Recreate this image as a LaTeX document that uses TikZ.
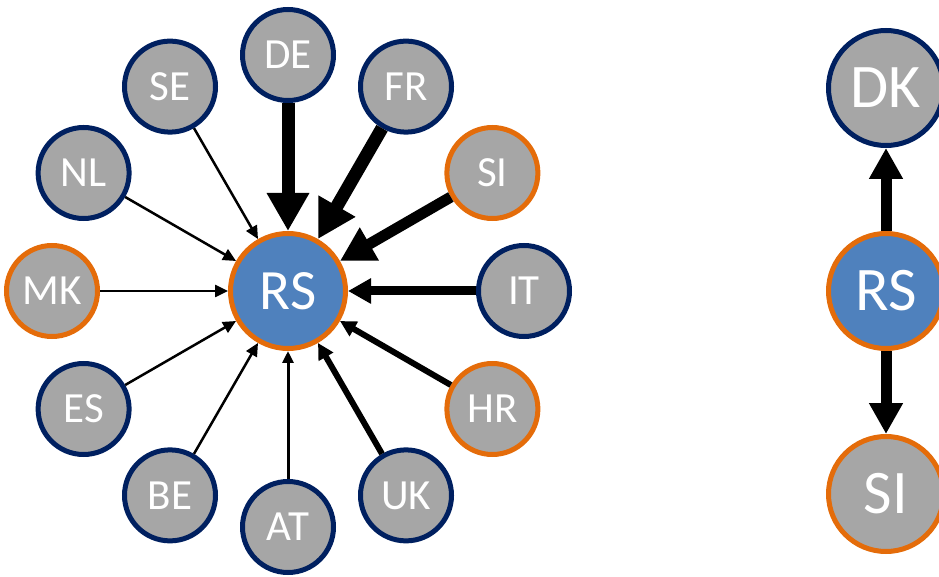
\documentclass[tikz,border=0pt]{standalone}
\usepackage{fontspec}
\setmainfont{Carlito}
\usepackage{tikz}
\usetikzlibrary{arrows.meta,shapes,positioning}
\definecolor{navyline}{HTML}{002060}
\definecolor{orangeline}{HTML}{E46C0A}
\definecolor{greyfill}{HTML}{A6A6A6}
\definecolor{bluefill}{HTML}{4F81BD}
\tikzstyle{country} = [circle, draw=navyline, line width=5pt, fill=greyfill,
    text=white, inner sep=0pt, minimum size=91pt, font=\fontsize{43}{43}\selectfont]
\tikzstyle{partner} = [country, draw=orangeline]
\tikzstyle{hub} = [country, draw=orangeline, fill=bluefill, minimum size=115pt,
    font=\fontsize{57}{57}\selectfont]
\tikzstyle{bigcountry} = [country, minimum size=115pt, font=\fontsize{62}{62}\selectfont]
\tikzstyle{bigpartner} = [bigcountry, draw=orangeline]
\tikzstyle{bighub} = [hub, font=\fontsize{62}{62}\selectfont]
\tikzstyle{line} = [draw, line width=2.5pt, -{Triangle[length=13pt,width=12pt]}]
\tikzstyle{line3} = [draw, line width=3pt, -{Triangle[length=12pt,width=11pt]}]
\tikzstyle{line6} = [draw, line width=6pt, -{Triangle[length=16pt,width=16pt]}]
\tikzstyle{line9} = [draw, line width=9pt, -{Triangle[length=23pt,width=24pt]}]
\tikzstyle{line11} = [draw, line width=11pt, -{Triangle[length=34pt,width=36pt]}]
\tikzstyle{line13} = [draw, line width=13pt, -{Triangle[length=38pt,width=40pt]}]
\tikzstyle{linebig} = [draw, line width=11pt, -{Triangle[length=31pt,width=32pt]}]

\begin{document}
\begin{tikzpicture}[x=1pt, y=1pt]
    \clip (0,0) rectangle (939,576);
    % Place nodes
    \node [hub] (rs) at (288,285) {RS};
    \begin{scope}[shift={(288,285)}]
    \node [country] (de) at (90:236) {DE};
    \node [country] (fr) at (60:236) {FR};
    \node [partner] (si) at (30:236) {SI};
    \node [country] (it) at (0:236) {IT};
    \node [partner] (hr) at (-30:236) {HR};
    \node [country] (uk) at (-60:236) {UK};
    \node [country] (at) at (-90:236) {AT};
    \node [country] (be) at (-120:236) {BE};
    \node [country] (es) at (-150:236) {ES};
    \node [partner] (mk) at (180:236) {MK};
    \node [country] (nl) at (150:236) {NL};
    \node [country] (se) at (120:236) {SE};
    \end{scope}
    \node [bighub] (rsb) at (886,285) {RS};
    \node [bigcountry, above of=rsb, node distance=203pt] (dk) {DK};
    \node [bigpartner, below of=rsb, node distance=203pt] (sib) {SI};

    % Draw edges
    \path [line13] (de) -- (rs);
    \path [line13] (fr) -- (rs);
    \path [line11] (si) -- (rs);
    \path [line9] (it) -- (rs);
    \path [line6] (hr) -- (rs);
    \path [line6] (uk) -- (rs);
    \path [line3] (at) -- (rs);
    \path [line] (be) -- (rs);
    \path [line] (es) -- (rs);
    \path [line] (mk) -- (rs);
    \path [line] (nl) -- (rs);
    \path [line] (se) -- (rs);
    \path [linebig] (rsb) -- (dk);
    \path [linebig] (rsb) -- (sib);

\end{tikzpicture}
\end{document}
